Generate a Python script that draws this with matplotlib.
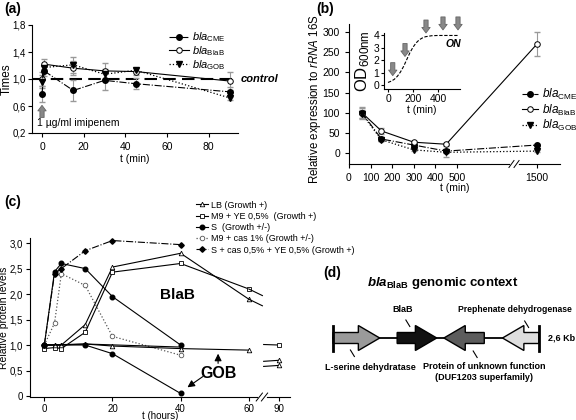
import numpy as np
import matplotlib
matplotlib.use('Agg')
import matplotlib.pyplot as plt
from matplotlib.patches import Polygon

plt.rcParams['font.family'] = ['Liberation Sans', 'DejaVu Sans']
plt.rcParams['mathtext.fontset'] = 'custom'
plt.rcParams['mathtext.rm'] = 'Liberation Sans'
plt.rcParams['mathtext.it'] = 'Liberation Sans:italic'
plt.rcParams['mathtext.bf'] = 'Liberation Sans:bold'
if 'mathtext.bfit' in plt.rcParams:
    plt.rcParams['mathtext.bfit'] = 'Liberation Sans:bold:italic'
plt.rcParams['axes.linewidth'] = 0.8
plt.rcParams['xtick.major.size'] = 3
plt.rcParams['ytick.major.size'] = 3
plt.rcParams['xtick.major.width'] = 0.8
plt.rcParams['ytick.major.width'] = 0.8

# ---- panel (a): imipenem induction ----
t_a = [0, 1, 15, 30, 45, 90]
cme_a = [0.78, 1.12, 0.83, 0.98, 0.93, 0.81]
cme_a_err = [0.12, 0.07, 0.15, 0.15, 0.08, 0.07]
blab_a = [1.00, 1.22, 1.16, 1.12, 1.11, 0.97]
blab_a_err = [0.10, 0.07, 0.10, 0.12, 0.05, 0.13]
gob_a = [0.96, 1.17, 1.21, 1.07, 1.13, 0.72]
gob_a_err = [0.10, 0.05, 0.12, 0.08, 0.03, 0.03]
a_yticks = [0.2, 0.6, 1.0, 1.4, 1.8]
a_yticklabels = ['0,2', '0,6', '1,0', '1,4', '1,8']

# ---- panel (b): growth phase ----
t_b = [60, 150, 300, 450, 1500]
cme_b = [100, 35, 20, 5, 20]
cme_b_err = [12, 5, 3, 15, 3]
blab_b = [100, 55, 27, 22, 270]
blab_b_err = [15, 8, 3, 4, 30]
gob_b = [97, 33, 8, 2, 5]
gob_b_err = [10, 4, 2, 2, 2]
b_xticks = [0, 100, 200, 300, 400, 500, 1500]

# inset growth curve
t_od = [0, 25, 50, 75, 100, 125, 150, 175, 200, 225, 250, 275, 300, 350, 400, 450, 500, 560]
od = [0.2, 0.3, 0.45, 0.7, 1.05, 1.5, 2.05, 2.6, 3.05, 3.4, 3.65, 3.8, 3.9, 3.98, 4.0, 4.0, 4.0, 4.0]
t_arrow = [38, 136, 304, 440, 560]
arrow_tip = [0.75, 2.3, 4.2, 4.45, 4.45]

# ---- panel (c): protein levels ----
t_c = [0, 3, 5, 12, 20, 40, 60]
t_c40 = [0, 3, 5, 12, 20, 40]
lb_blab = [1.0, 1.0, 1.0, 1.4, 2.53, 2.8, 1.9]
m9ye_blab = [0.93, 0.95, 0.93, 1.25, 2.43, 2.6, 2.1]
s_blab = [1.0, 2.44, 2.6, 2.5, 1.95, 1.0]
m9cas_blab = [1.0, 1.43, 2.4, 2.17, 1.17, 0.8]
scasye_blab = [1.0, 2.4, 2.5, 2.85, 3.05, 2.97]
lb_gob = [1.0, 1.0, 1.0, 1.02, 0.98, 0.93, 0.9]
t_s_gob = [0, 12, 20, 40]
s_gob = [1.0, 1.0, 0.83, 0.05]
t_other_gob = [0, 12, 40]
other_gob = [1.0, 1.02, 0.96]
t_pre = [60, 64]
lb_pre = [1.9, 1.77]
m9ye_pre = [2.1, 1.97]
t_post = [66, 90]
sq_90 = [1.01, 1.0]
tri1_90 = [0.68, 0.7]
tri2_90 = [0.58, 0.6]
c_xticks = [0, 20, 40, 60, 90]
c_yticks = [0, 0.5, 1.0, 1.5, 2.0, 2.5, 3.0]
c_yticklabels = ['0', '0,5', '1,0', '1,5', '2,0', '2,5', '3,0']
c_labels = ['LB (Growth +)', 'M9 + YE 0,5%  (Growth +)', 'S  (Growth +/-)',
            'M9 + cas 1% (Growth +/-)', 'S + cas 0,5% + YE 0,5% (Growth +)']

# ---- panel (d): genomic context (kb) ----
gene_start = [0.0, 0.81, 1.40, 2.14]
gene_end = [0.59, 1.31, 1.91, 2.60]
gene_strand = [1, 1, -1, -1]
gene_colors = ['#9a9a9a', '#111111', '#5c5c5c', '#dedede']

labels_bla = [r'$bla_{\mathrm{CME}}$', r'$bla_{\mathrm{BlaB}}$', r'$bla_{\mathrm{GOB}}$']

fig = plt.figure(figsize=(5.76, 4.2), dpi=100)
W, H = 576.0, 420.0


def box(l, t, r, b):
    return [l / W, 1 - b / H, (r - l) / W, (b - t) / H]


def clean(ax):
    ax.spines['top'].set_visible(False)
    ax.spines['right'].set_visible(False)


grey_arrow = dict(arrowstyle='simple,head_width=0.75,head_length=0.5,tail_width=0.38',
                  fc='#888888', ec='#666666', lw=0.6, mutation_scale=8, shrinkA=0, shrinkB=0)
black_arrow = dict(arrowstyle='-|>,head_width=0.3,head_length=0.6', color='k', lw=0.8,
                   mutation_scale=7, shrinkA=0, shrinkB=0)

# ======== (a) ========
ax_a = fig.add_axes(box(32, 25, 238, 133))
clean(ax_a)
ecol = '#999999'
for y, e in [(cme_a, cme_a_err), (blab_a, blab_a_err), (gob_a, gob_a_err)]:
    ax_a.errorbar(t_a, y, yerr=e, fmt='none', ecolor=ecol, elinewidth=0.8, capsize=2)
ax_a.axhline(1.0, ls=(0, (6, 3)), lw=1.5, color='k', zorder=1)
ax_a.plot(t_a, cme_a, ls='-.', color='k', lw=0.8, marker='o', ms=4, mfc='k', label=labels_bla[0])
ax_a.plot(t_a, blab_a, ls='-', color='k', lw=0.8, marker='o', ms=4, mfc='white', mew=0.7, label=labels_bla[1])
ax_a.plot(t_a, gob_a, ls=':', color='k', lw=0.9, marker='v', ms=4, mfc='k', label=labels_bla[2])
ax_a.set_xlim(-4.8, 94)
ax_a.set_ylim(0.2, 1.8)
ax_a.set_xticks([0, 20, 40, 60, 80])
ax_a.set_yticks(a_yticks)
ax_a.set_yticklabels(a_yticklabels)
ax_a.tick_params(labelsize=7.5)
ax_a.tick_params(axis='y', labelsize=7, pad=1.5)
ax_a.set_xlabel('t (min)', fontsize=7.5)
ax_a.xaxis.set_label_coords(0.5, -0.19)
fig.text(7 / W, 1 - 79 / H, 'Times', fontsize=8.5, rotation=90, ha='center', va='center')
ax_a.text(1.012, 1.0, 'control', transform=ax_a.get_yaxis_transform(),
          fontsize=8, fontweight='bold', fontstyle='italic', va='center')
ax_a.annotate('', xy=(0, 0.61), xytext=(0, 0.43), arrowprops=grey_arrow)
ax_a.text(-2.5, 0.35, '1 \u00b5g/ml imipenem', fontsize=7.5, va='center')
ax_a.legend(loc='upper left', bbox_to_anchor=(163 / W, 1 - 25 / H), bbox_transform=fig.transFigure,
            frameon=False, fontsize=8, handlelength=1.8, handletextpad=0.3, labelspacing=0.0,
            borderpad=0)
fig.text(4 / W, 1 - 9 / H, '(a)', fontsize=10, fontweight='bold', va='center')


# ======== (b) ========
def fwd_b(x):
    x = np.asarray(x, dtype=float)
    return np.where(x <= 550, x, 550 + (x - 550) * 0.3368)


def inv_b(p):
    p = np.asarray(p, dtype=float)
    return np.where(p <= 550, p, 550 + (p - 550) / 0.3368)


ax_b = fig.add_axes(box(349, 24, 560, 164))
clean(ax_b)
ax_b.set_xscale('function', functions=(fwd_b, inv_b))
for y, e in [(cme_b, cme_b_err), (blab_b, blab_b_err), (gob_b, gob_b_err)]:
    ax_b.errorbar(t_b, y, yerr=e, fmt='none', ecolor=ecol, elinewidth=0.8, capsize=2)
ax_b.plot(t_b, cme_b, ls='-.', color='k', lw=0.8, marker='o', ms=4, mfc='k', label=labels_bla[0])
ax_b.plot(t_b, blab_b, ls='-', color='k', lw=0.8, marker='o', ms=4, mfc='white', mew=0.7, label=labels_bla[1])
ax_b.plot(t_b, gob_b, ls=':', color='k', lw=0.9, marker='v', ms=4, mfc='k', label=labels_bla[2])
ax_b.set_xlim(0, 1818)
ax_b.set_ylim(-27, 320)
ax_b.set_xticks(b_xticks)
ax_b.set_xticklabels([str(v) for v in b_xticks])
ax_b.set_yticks([0, 50, 100, 150, 200, 250, 300])
ax_b.tick_params(labelsize=7.5)
ax_b.set_xlabel('t (min)', fontsize=7.5)
ax_b.xaxis.set_label_coords(0.5, -0.135)
ax_b.set_ylabel(r'Relative expression to $rRNA$ 16S', fontsize=8.3)
ax_b.yaxis.set_label_coords(-0.125, 0.46)
ax_b.legend(loc='upper left', bbox_to_anchor=(516 / W, 1 - 81 / H), bbox_transform=fig.transFigure,
            frameon=False, fontsize=8.5, handlelength=1.4, handletextpad=0.3, labelspacing=0.05,
            borderpad=0)
# axis break
bx = 0.782
ax_b.plot([bx - 0.012, bx + 0.012], [0, 0], transform=ax_b.transAxes, color='white', lw=2,
          clip_on=False, zorder=5)
for dx in (-0.012, 0.012):
    ax_b.plot([bx + dx - 0.012, bx + dx + 0.012], [-0.025, 0.025], transform=ax_b.transAxes,
              color='k', lw=0.7, clip_on=False, zorder=6)
fig.text(316 / W, 1 - 9 / H, '(b)', fontsize=10, fontweight='bold', va='center')

# inset
ax_in = fig.add_axes(box(384, 33, 460, 89))
clean(ax_in)
ax_in.plot(t_od, od, ls=(0, (3, 1.5)), color='k', lw=0.8)
for t, tip in zip(t_arrow, arrow_tip):
    ax_in.annotate('', xy=(t, tip), xytext=(t, tip + 1.05), annotation_clip=False,
                   arrowprops=grey_arrow)
ax_in.set_xlim(-32, 576)
ax_in.set_ylim(-0.33, 4.2)
ax_in.set_xticks([0, 200, 400])
ax_in.set_yticks([0, 1, 2, 3, 4])
ax_in.tick_params(labelsize=7.5, length=2, pad=1.5)
ax_in.set_xlabel('t (min)', fontsize=7.5, labelpad=1)
ax_in.set_ylabel(r'OD$_{600\mathrm{nm}}$', fontsize=12, labelpad=1)
ax_in.text(520, 3.3, 'ON', fontsize=7.5, fontweight='bold', fontstyle='italic', ha='center', va='center')


# ======== (c) ========
def fwd_c(t):
    t = np.asarray(t, dtype=float)
    return np.where(t <= 64, t, 64 + (t - 64) * 0.185)


def inv_c(p):
    p = np.asarray(p, dtype=float)
    return np.where(p <= 64, p, 64 + (p - 64) / 0.185)


ax_c = fig.add_axes(box(30, 238, 290, 397))
clean(ax_c)
ax_c.set_xscale('function', functions=(fwd_c, inv_c))
ms = 3.3
lw = 0.8
ax_c.plot(t_c, lb_blab, '-', color='k', lw=lw, marker='^', ms=ms, mfc='white', mew=0.6, label=c_labels[0])
ax_c.plot(t_c, m9ye_blab, '-', color='k', lw=lw, marker='s', ms=ms, mfc='white', mew=0.6, label=c_labels[1])
ax_c.plot(t_c40, s_blab, '-', color='k', lw=lw, marker='o', ms=ms, mfc='k', label=c_labels[2])
ax_c.plot(t_c40, m9cas_blab, ':', color='#555555', lw=0.9, marker='o', ms=ms, mfc='white',
          mec='#555555', mew=0.6, label=c_labels[3])
ax_c.plot(t_c40, scasye_blab, '-.', color='k', lw=lw, marker='D', ms=2.8, mfc='k', label=c_labels[4])
ax_c.plot(t_c, lb_gob, '-', color='k', lw=lw, marker='^', ms=ms, mfc='white', mew=0.6)
ax_c.plot(t_s_gob, s_gob, '-', color='k', lw=lw, marker='o', ms=ms, mfc='k')
ax_c.plot(t_other_gob, other_gob, '-', color='k', lw=lw)
ax_c.plot(t_pre, lb_pre, '-', color='k', lw=lw)
ax_c.plot(t_pre, m9ye_pre, '-', color='k', lw=lw)
ax_c.plot(t_post, sq_90, '-', color='k', lw=lw, marker='s', ms=ms, mfc='white', mew=0.6, markevery=[1])
ax_c.plot(t_post, tri1_90, '-', color='k', lw=lw, marker='^', ms=ms, mfc='white', mew=0.6, markevery=[1])
ax_c.plot(t_post, tri2_90, '-', color='k', lw=lw, marker='^', ms=ms, mfc='white', mew=0.6, markevery=[1])
ax_c.set_xlim(-4.2, 107.8)
ax_c.set_ylim(-0.02, 3.1)
ax_c.set_xticks(c_xticks)
ax_c.set_xticklabels([str(v) for v in c_xticks])
ax_c.set_yticks(c_yticks)
ax_c.set_yticklabels(c_yticklabels)
ax_c.tick_params(labelsize=7, pad=2)
ax_c.set_xlabel('t (hours)', fontsize=7)
ax_c.xaxis.set_label_coords(0.5, -0.09)
ax_c.set_ylabel('Relative protein levels', fontsize=7.5)
ax_c.yaxis.set_label_coords(-0.082, 0.5)
ax_c.text(39, 1.98, 'BlaB', fontsize=11, fontweight='bold', ha='center', va='center')
ax_c.text(51, 0.45, 'GOB', fontsize=11.5, fontweight='bold', ha='center', va='center')
ax_c.annotate('', xy=(51, 0.83), xytext=(51, 0.64), arrowprops=black_arrow)
ax_c.annotate('', xy=(42, 0.17), xytext=(46.5, 0.38), arrowprops=black_arrow)
cx = 0.892
ax_c.plot([cx - 0.012, cx + 0.012], [0, 0], transform=ax_c.transAxes, color='white', lw=2,
          clip_on=False, zorder=5)
for dx in (-0.01, 0.01):
    ax_c.plot([cx + dx - 0.012, cx + dx + 0.012], [-0.025, 0.025], transform=ax_c.transAxes,
              color='k', lw=0.7, clip_on=False, zorder=6)
ax_c.legend(loc='upper left', bbox_to_anchor=(191 / W, 1 - 196 / H), bbox_transform=fig.transFigure,
            frameon=False, fontsize=6.5, handlelength=1.4, handletextpad=0.3, labelspacing=0.25,
            borderpad=0)
fig.text(4 / W, 1 - 202 / H, '(c)', fontsize=10, fontweight='bold', va='center')

# ======== (d) ========
ax_d = fig.add_axes(box(290, 250, 576, 420))
ax_d.set_xlim((290 - 333) / 79.2, (576 - 333) / 79.2)
ax_d.set_ylim(420, 250)
ax_d.axis('off')
yc = 338
head = 0.27
for s, e, d, c in zip(gene_start, gene_end, gene_strand, gene_colors):
    if d > 0:
        hb = e - head
        pts = [(s, yc - 5.5), (hb, yc - 5.5), (hb, yc - 12.5), (e, yc), (hb, yc + 12.5),
               (hb, yc + 5.5), (s, yc + 5.5)]
    else:
        hb = s + head
        pts = [(e, yc - 5.5), (hb, yc - 5.5), (hb, yc - 12.5), (s, yc), (hb, yc + 12.5),
               (hb, yc + 5.5), (e, yc + 5.5)]
    ax_d.add_patch(Polygon(pts, closed=True, fc=c, ec='k', lw=1.0, zorder=3))
ax_d.plot([gene_start[0], gene_end[-1]], [yc, yc], color='k', lw=1.3, zorder=2)
ax_d.plot([0, 0], [326, 351], color='k', lw=2, zorder=4)
ax_d.plot([2.6, 2.6], [326, 351], color='k', lw=2, zorder=4)
ax_d.text(2.71, yc, '2,6 Kb', fontsize=6.5, fontweight='bold', va='center')
ax_d.text(0.88, 310, 'BlaB', fontsize=6.5, fontweight='bold', ha='center', va='center')
ax_d.text(2.30, 310, 'Prephenate dehydrogenase', fontsize=6.2, fontweight='bold', ha='center', va='center')
ax_d.text(0.47, 367, 'L-serine dehydratase', fontsize=6.5, fontweight='bold', ha='center', va='center')
ax_d.text(1.91, 372, 'Protein of unknown function\n(DUF1203 superfamily)', fontsize=6.5,
          fontweight='bold', ha='center', va='center', linespacing=1.15)
for x0, y0 in [(0.92, 320), (2.42, 321), (0.22, 350), (1.77, 351)]:
    ax_d.plot([x0, x0 + 0.05], [y0, y0 + 6.5], color='k', lw=0.8)
ax_d.text(1.39, 283, r'$\mathbfit{bla}_{\mathbf{BlaB}}$ genomic context', fontsize=9.5,
          fontweight='bold', ha='center', va='center')
fig.text(323 / W, 1 - 273 / H, '(d)', fontsize=10, fontweight='bold', va='center')

fig.savefig('out.png', dpi=100)
